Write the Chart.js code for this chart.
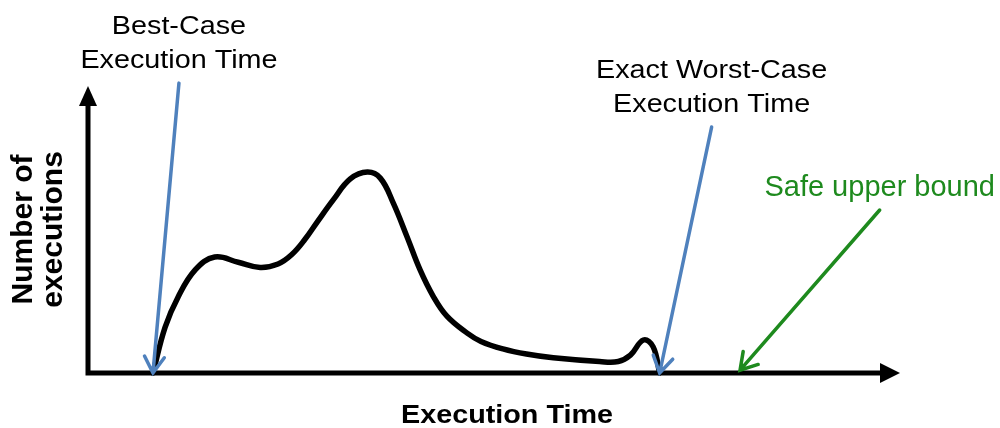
<!DOCTYPE html>
<html>
<head>
<meta charset="utf-8">
<script src="https://cdn.jsdelivr.net/npm/chart.js@4.4.1/dist/chart.umd.min.js"></script>
<style>
  html, body { margin: 0; padding: 0; background: #fff; }
  #wrap { width: 1000px; height: 428px; }
</style>
</head>
<body>
<div id="wrap"><canvas id="wcet" width="1000" height="428"></canvas></div>
<script>
// execution-time distribution (arbitrary units)
const execTimes = [8.0, 9.5, 11.1, 13.2, 15.6, 18.5, 21.2, 23.4, 25.1, 26.7, 28.2, 30.2, 32.3, 34.4, 36.0, 37.6, 39.3, 40.9, 42.5, 44.2, 46.7, 48.4, 51.1, 54.0, 57.3, 63.0, 65.3, 66.8, 68.4, 69.6, 70.4];
const execCounts = [0, 16.0, 26.5, 35.9, 40.4, 38.6, 36.8, 38.0, 41.3, 46.5, 52.5, 60.3, 67.6, 70.0, 67.9, 59.2, 47.4, 35.9, 26.8, 19.8, 13.9, 11.0, 8.4, 6.6, 5.3, 4.0, 4.0, 6.2, 11.5, 9.1, 0];

const xTitle = 'Execution Time';
const yTitle = ['Number of', 'executions'];

// annotation labels and where their arrows point (data units)
const notes = [
    { lines: ['Best-Case', 'Execution Time'], color: '#000', arrow: '#4F81BD', at: [11.2, 101], tip: [8.0, 0] },
    { lines: ['Exact Worst-Case', 'Execution Time'], color: '#000', arrow: '#4F81BD', at: [76.8, 85.7], tip: [70.4, 0] },
    { lines: ['Safe upper bound'], color: '#1E8A1E', arrow: '#1E8A1E', at: [97.5, 56.8], tip: [80.3, 1] }
];

function arrowLine(ctx, x1, y1, x2, y2, color, w, head) {
    const a = Math.atan2(y2 - y1, x2 - x1);
    ctx.save();
    ctx.strokeStyle = color;
    ctx.lineWidth = w;
    ctx.lineCap = 'round';
    ctx.beginPath();
    ctx.moveTo(x1, y1);
    ctx.lineTo(x2, y2);
    ctx.moveTo(x2 - head * Math.cos(a - 0.55), y2 - head * Math.sin(a - 0.55));
    ctx.lineTo(x2, y2);
    ctx.lineTo(x2 - head * Math.cos(a + 0.55), y2 - head * Math.sin(a + 0.55));
    ctx.stroke();
    ctx.restore();
}

function stretchedText(ctx, txt, x, y, sx) {
    ctx.save();
    ctx.translate(x, y);
    ctx.scale(sx, 1);
    ctx.fillText(txt, 0, 0);
    ctx.restore();
}

const sketchAxes = {
    id: 'sketchAxes',
    beforeDatasetsDraw(chart) {
        const { ctx, chartArea: a } = chart;
        ctx.save();
        ctx.fillStyle = '#000';
        ctx.strokeStyle = '#000';
        ctx.lineWidth = 5;
        ctx.beginPath();
        ctx.moveTo(a.left, a.top + 16);
        ctx.lineTo(a.left, a.bottom);
        ctx.lineTo(a.right - 16, a.bottom);
        ctx.stroke();
        // arrow heads
        ctx.beginPath();
        ctx.moveTo(a.left, a.top);
        ctx.lineTo(a.left - 9, a.top + 20);
        ctx.lineTo(a.left + 9, a.top + 20);
        ctx.closePath();
        ctx.fill();
        ctx.beginPath();
        ctx.moveTo(a.right, a.bottom);
        ctx.lineTo(a.right - 20, a.bottom - 10);
        ctx.lineTo(a.right - 20, a.bottom + 10);
        ctx.closePath();
        ctx.fill();
        ctx.restore();
    },
    afterDraw(chart) {
        const { ctx, chartArea: a } = chart;
        const xs = chart.scales.x, ys = chart.scales.y;
        ctx.save();
        ctx.textAlign = 'center';
        ctx.textBaseline = 'alphabetic';

        notes.forEach(n => {
            const tx = xs.getPixelForValue(n.tip[0]), ty = ys.getPixelForValue(n.tip[1]);
            const fx = xs.getPixelForValue(n.at[0]), fy = ys.getPixelForValue(n.at[1]);
            arrowLine(ctx, fx, fy, tx, ty, n.arrow, 3.5, 19);
            ctx.fillStyle = n.color;
            if (n.lines.length === 1) {
                ctx.font = '29px "Liberation Sans", Arial, sans-serif';
                ctx.fillText(n.lines[0], fx, fy - 14);
            } else {
                ctx.font = '25px "Liberation Sans", Arial, sans-serif';
                stretchedText(ctx, n.lines[0], fx, fy - 49, 1.15);
                stretchedText(ctx, n.lines[1], fx, fy - 15, 1.15);
            }
        });

        // axis titles
        ctx.fillStyle = '#000';
        ctx.font = 'bold 25px "Liberation Sans", Arial, sans-serif';
        stretchedText(ctx, xTitle, (a.left + a.right) / 2 + 13, a.bottom + 50, 1.15);

        ctx.font = 'bold 30px "Liberation Sans", Arial, sans-serif';
        ctx.translate(a.left - 56, ys.getPixelForValue(50));
        ctx.rotate(-Math.PI / 2);
        ctx.fillText(yTitle[0], 0, 0);
        ctx.fillText(yTitle[1], 0, 30);
        ctx.restore();
    }
};

const points = execTimes.map((t, i) => ({ x: t, y: execCounts[i] }));

new Chart(document.getElementById('wcet').getContext('2d'), {
    type: 'line',
    data: {
        datasets: [{
            data: points,
            borderColor: '#000',
            borderWidth: 5.5,
            pointRadius: 0,
            tension: 0.4,
            borderCapStyle: 'round',
            borderJoinStyle: 'round',
            fill: false,
            clip: false
        }]
    },
    options: {
        responsive: false,
        animation: false,
        layout: { padding: { left: 88, right: 100, top: 86, bottom: 55 } },
        scales: {
            x: { type: 'linear', min: 0, max: 100, display: false },
            y: { min: 0, max: 100, display: false }
        },
        plugins: {
            legend: { display: false },
            tooltip: { enabled: false }
        }
    },
    plugins: [sketchAxes]
});
</script>
</body>
</html>
